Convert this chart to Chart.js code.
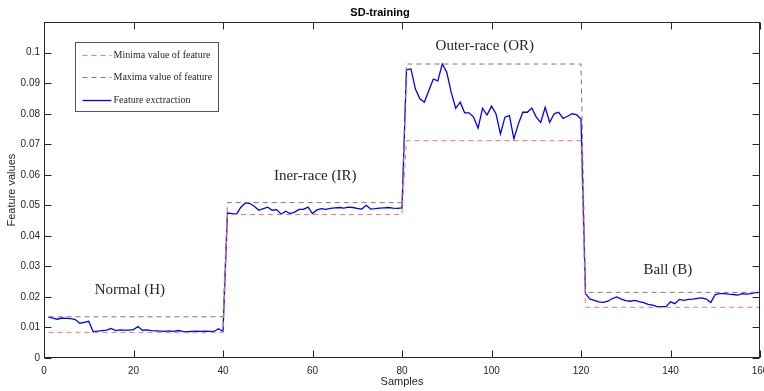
<!DOCTYPE html>
<html>
<head>
<meta charset="utf-8">
<script src="https://cdn.jsdelivr.net/npm/chart.js@4.4.1/dist/chart.umd.min.js"></script>
<style>
  html, body { margin: 0; padding: 0; background: #fff; }
  #wrap { width: 764px; height: 391px; }
</style>
</head>
<body>
<div id="wrap"><canvas id="chart" width="764" height="391"></canvas></div>
<script>
// samples 1..160, feature value of each sample
const featureValues = [
    // Normal (H) 1-40
    0.0134, 0.0131, 0.0127, 0.0131, 0.0130, 0.0129, 0.0126, 0.0114, 0.0117, 0.0120,
    0.0086, 0.0088, 0.0090, 0.0091, 0.0097, 0.0090, 0.0092, 0.0091, 0.0091, 0.0093,
    0.0103, 0.0091, 0.0092, 0.0090, 0.0089, 0.0088, 0.0087, 0.0089, 0.0087, 0.0090,
    0.0087, 0.0086, 0.0087, 0.0088, 0.0087, 0.0088, 0.0087, 0.0087, 0.0096, 0.0087,
    // Iner-race (IR) 41-80
    0.0475, 0.0473, 0.0471, 0.0494, 0.0508, 0.0506, 0.0497, 0.0484, 0.0489, 0.0494,
    0.0484, 0.0486, 0.0471, 0.0481, 0.0473, 0.0478, 0.0487, 0.0487, 0.0494, 0.0473,
    0.0485, 0.0489, 0.0487, 0.0490, 0.0492, 0.0493, 0.0491, 0.0494, 0.0493, 0.0490,
    0.0488, 0.0500, 0.0488, 0.0489, 0.0491, 0.0492, 0.0493, 0.0491, 0.0490, 0.0492,
    // Outer-race (OR) 81-120
    0.0944, 0.0947, 0.0881, 0.0849, 0.0838, 0.0876, 0.0914, 0.0908, 0.0963, 0.0936,
    0.0870, 0.0818, 0.0838, 0.0803, 0.0803, 0.0789, 0.0753, 0.0818, 0.0796, 0.0825,
    0.0800, 0.0734, 0.0789, 0.0794, 0.0718, 0.0767, 0.0805, 0.0805, 0.0819, 0.0789,
    0.0772, 0.0821, 0.0772, 0.0800, 0.0805, 0.0785, 0.0792, 0.0800, 0.0797, 0.0783,
    // Ball (B) 121-160
    0.0211, 0.0193, 0.0189, 0.0184, 0.0182, 0.0186, 0.0195, 0.0200, 0.0193, 0.0188,
    0.0186, 0.0189, 0.0185, 0.0181, 0.0176, 0.0173, 0.0168, 0.0168, 0.0168, 0.0184,
    0.0178, 0.0192, 0.0189, 0.0192, 0.0193, 0.0195, 0.0197, 0.0193, 0.0182, 0.0208,
    0.0211, 0.0211, 0.0209, 0.0208, 0.0206, 0.0211, 0.0209, 0.0211, 0.0214, 0.0215
];

// min / max lines: corner points of each class segment
const levelX = [1, 40, 41, 80, 81, 120, 121, 160];
const minimaY = [0.0084, 0.0084, 0.0470, 0.0470, 0.0712, 0.0712, 0.0166, 0.0166];
const maximaY = [0.0135, 0.0135, 0.0509, 0.0509, 0.0963, 0.0963, 0.0215, 0.0215];

const classLabels = ['Normal (H)', 'Iner-race (IR)', 'Outer-race (OR)', 'Ball (B)'];
const classLabelX = [19.2, 60.6, 98.5, 139.4];
const classLabelY = [0.0222, 0.0595, 0.1023, 0.0288];

const xTicks = [0, 20, 40, 60, 80, 100, 120, 140, 160];

const INK = '#262626';
const RED = '#ff7373';
const GRAY = '#7a7a7a';
const BLUE = '#0000ff';

const toPts = (xs, ys) => xs.map((x, i) => ({ x, y: ys[i] }));

// inward MATLAB style ticks + full box
const boxTicks = {
    id: 'boxTicks',
    afterDatasetsDraw(chart) {
        const { ctx, chartArea: a, scales: { x, y } } = chart;
        const L = Math.round(a.left) + 0.5, R = Math.round(a.right) - 0.5;
        const T = Math.round(a.top) + 0.5, B = Math.round(a.bottom) - 0.5;
        ctx.save();
        ctx.strokeStyle = INK; ctx.lineWidth = 1;
        ctx.strokeRect(L, T, R - L, B - T);
        ctx.beginPath();
        x.ticks.forEach(t => {
            const px = Math.round(x.getPixelForValue(t.value)) + 0.5;
            ctx.moveTo(px, B); ctx.lineTo(px, B - 7);
            ctx.moveTo(px, T); ctx.lineTo(px, T + 7);
        });
        y.ticks.forEach(t => {
            const py = Math.round(y.getPixelForValue(t.value)) + 0.5;
            ctx.moveTo(L, py); ctx.lineTo(L + 7, py);
            ctx.moveTo(R, py); ctx.lineTo(R - 7, py);
        });
        ctx.stroke();
        ctx.restore();
    }
};

// class names written inside the plot
const classNames = {
    id: 'classNames',
    afterDatasetsDraw(chart) {
        const { ctx, scales: { x, y } } = chart;
        ctx.save();
        ctx.fillStyle = INK;
        ctx.font = '15px "Liberation Serif", "Times New Roman", serif';
        ctx.textAlign = 'center'; ctx.textBaseline = 'middle';
        classLabels.forEach((s, i) => {
            ctx.fillText(s, x.getPixelForValue(classLabelX[i]), y.getPixelForValue(classLabelY[i]));
        });
        ctx.restore();
    }
};

// boxed legend in the upper left corner
const boxLegend = {
    id: 'boxLegend',
    afterDraw(chart) {
        const { ctx, chartArea: a } = chart;
        const bx = Math.round(a.left) + 31.5, by = Math.round(a.top) + 20.5;
        ctx.save();
        ctx.fillStyle = '#fff';
        ctx.fillRect(bx, by, 143, 69);
        ctx.strokeStyle = '#555'; ctx.lineWidth = 1;
        ctx.strokeRect(bx, by, 143, 69);
        ctx.font = '10px "Liberation Serif", "Times New Roman", serif';
        ctx.textBaseline = 'middle'; ctx.textAlign = 'left';
        chart.data.datasets.forEach((ds, i) => {
            const ly = Math.round(by + 12 + i * 22.5) + 0.5;
            ctx.beginPath();
            ctx.strokeStyle = ds.borderColor;
            ctx.lineWidth = ds.borderWidth;
            ctx.setLineDash(ds.borderDash || []);
            ctx.moveTo(bx + 7, ly); ctx.lineTo(bx + 36, ly);
            ctx.stroke();
            ctx.setLineDash([]);
            ctx.fillStyle = INK;
            ctx.fillText(ds.label, bx + 38, ly);
        });
        ctx.restore();
    }
};

new Chart(document.getElementById('chart'), {
    type: 'line',
    data: {
        datasets: [
            {
                label: 'Minima value of feature', data: toPts(levelX, minimaY),
                borderColor: RED, borderWidth: 1, borderDash: [5, 4],
                pointRadius: 0, tension: 0, fill: false,
            },
            {
                label: 'Maxima value of feature', data: toPts(levelX, maximaY),
                borderColor: GRAY, borderWidth: 1, borderDash: [5, 4],
                pointRadius: 0, tension: 0, fill: false,
            },
            {
                label: 'Feature exctraction', data: featureValues.map((v, i) => ({ x: i + 1, y: v })),
                borderColor: BLUE, borderWidth: 1.3,
                pointRadius: 0, tension: 0, fill: false,
            },
        ],
    },
    options: {
        responsive: false,
        animation: false,
        layout: { padding: { left: 0, right: 4, top: 0, bottom: 0 } },
        plugins: {
            legend: { display: false },
            tooltip: { enabled: false },
            title: {
                display: true, text: 'SD-training', color: '#000',
                font: { family: '"Liberation Sans", Arial, sans-serif', size: 11, weight: 'bold' },
                padding: { top: 6, bottom: 3 },
            },
        },
        scales: {
            x: {
                type: 'linear', min: 0, max: 160,
                afterBuildTicks: s => { s.ticks = xTicks.map(v => ({ value: v })); },
                afterFit: s => { s.height = 33; s.paddingLeft = 0; s.paddingRight = 0; },
                grid: { display: false, drawTicks: false, tickLength: 0 }, border: { display: false },
                ticks: {
                    color: INK, padding: 7, maxRotation: 0,
                    font: { family: '"Liberation Sans", Arial, sans-serif', size: 10 },
                },
                title: {
                    display: true, text: 'Samples', color: INK, padding: { top: 0, bottom: 2 },
                    font: { family: '"Liberation Sans", Arial, sans-serif', size: 11 },
                },
            },
            y: {
                min: 0, max: 0.11,
                afterFit: s => { s.width = 44; s.paddingTop = 0; s.paddingBottom = 0; },
                grid: { display: false, drawTicks: false, tickLength: 0 }, border: { display: false },
                ticks: {
                    stepSize: 0.01, color: INK, padding: 4,
                    font: { family: '"Liberation Sans", Arial, sans-serif', size: 10 },
                    callback: v => (v > 0.105 ? '' : String(parseFloat(v.toFixed(2)))),
                },
                title: {
                    display: true, text: 'Feature values', color: INK, padding: { top: 5, bottom: 0 },
                    font: { family: '"Liberation Sans", Arial, sans-serif', size: 11 },
                },
            },
        },
    },
    plugins: [boxTicks, classNames, boxLegend],
});
</script>
</body>
</html>
